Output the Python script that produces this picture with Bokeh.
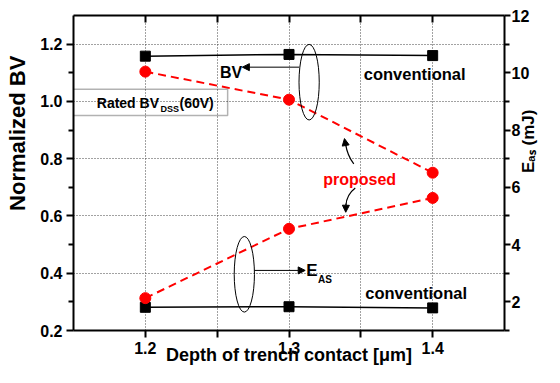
import math
from bokeh.plotting import figure
from bokeh.models import (Range1d, LinearAxis, FixedTicker, Label, Arrow,
                          NormalHead, BoxAnnotation, PrintfTickFormatter)
from bokeh.embed import file_html
from bokeh.resources import INLINE

# ---------------- data ----------------
depth = [1.2, 1.3, 1.4]                      # depth of trench contact [um]
bv_conventional = [1.158, 1.164, 1.160]      # normalized BV
bv_proposed = [1.104, 1.006, 0.751]          # normalized BV
eas_conventional = [1.81, 1.83, 1.79]        # E_AS (mJ)
eas_proposed = [2.13, 4.55, 5.63]            # E_AS (mJ)

x_ticks = [1.2, 1.3, 1.4]
x_minor = [1.25, 1.35]
bv_ticks = [0.2, 0.4, 0.6, 0.8, 1.0, 1.2]
bv_minor = [0.3, 0.5, 0.7, 0.9, 1.1]
eas_ticks = [2, 4, 6, 8, 10, 12]
eas_minor = [1, 3, 5, 7, 9, 11]

X0, X1 = 1.15, 1.45
Y0, Y1 = 0.2, 1.3
E0, E1 = 1, 12

# helpers: place annotations by their pixel position in the reference picture
FX0, FX1, FY0, FY1 = 73, 512, 15, 340
def dx(px): return X0 + (px - FX0) / (FX1 - FX0) * (X1 - X0)
def dy(py): return Y1 - (py - FY0) / (FY1 - FY0) * (Y1 - Y0)
def dw(pw): return pw / (FX1 - FX0) * (X1 - X0)
def dh(ph): return ph / (FY1 - FY0) * (Y1 - Y0)

FONT = "Liberation Sans"
RED = "#ff0000"
NB = "\u00a0"

p = figure(width=544, height=367, x_range=Range1d(X0, X1), y_range=Range1d(Y0, Y1),
           output_backend="svg", toolbar_location=None,
           min_border_left=73, min_border_right=40, min_border_top=15, min_border_bottom=37)
p.extra_y_ranges = {"eas": Range1d(E0, E1)}
p.outline_line_color = None
p.background_fill_color = "white"
p.border_fill_color = "white"

xt = FixedTicker(ticks=x_ticks, minor_ticks=x_minor)
yt = FixedTicker(ticks=bv_ticks, minor_ticks=bv_minor)
et = FixedTicker(ticks=eas_ticks, minor_ticks=eas_minor)

def style_axis(ax):
    ax.axis_line_width = 2
    ax.axis_line_color = "black"
    ax.major_tick_line_width = 2
    ax.minor_tick_line_width = 2
    ax.major_tick_line_color = "black"
    ax.minor_tick_line_color = "black"
    ax.major_label_text_font = FONT
    ax.major_label_text_font_style = "bold"
    ax.major_label_text_font_size = "16px"
    ax.major_label_text_color = "black"
    ax.axis_label_text_font = FONT
    ax.axis_label_text_font_style = "bold"
    ax.axis_label_text_color = "black"

bx = p.xaxis[0]
style_axis(bx)
bx.ticker = xt
bx.formatter = PrintfTickFormatter(format="%.1f")
bx.major_tick_in = 0
bx.major_tick_out = 7
bx.minor_tick_in = 0
bx.minor_tick_out = 7
bx.major_label_standoff = 4
bx.axis_label = "Depth of trench contact [μm]"
bx.axis_label_text_font_size = "18px"
bx.axis_label_standoff = -12

ly = p.yaxis[0]
style_axis(ly)
ly.ticker = yt
ly.formatter = PrintfTickFormatter(format="%.1f")
ly.major_tick_in = 0
ly.major_tick_out = 7
ly.minor_tick_in = 0
ly.minor_tick_out = 5
ly.major_label_standoff = 4
ly.axis_label = NB * 13 + "Normalized BV"
ly.axis_label_text_font_size = "22px"
ly.axis_label_standoff = 7

ry = LinearAxis(y_range_name="eas", ticker=et)
style_axis(ry)
ry.major_tick_in = 0
ry.major_tick_out = 6
ry.minor_tick_in = 0
ry.minor_tick_out = 5
ry.major_label_standoff = 1
# title reads bottom-to-top; drawn on a second text line whose box takes no room
ry.axis_label = "\nE\u2090\u209b (mJ)"
ry.axis_label_text_font_size = "17px"
ry.axis_label_text_line_height = -1
ry.axis_label_standoff = 6
if "axis_label_orientation" in LinearAxis.properties():
    ry.axis_label_orientation = math.pi / 2
p.add_layout(ry, "right")

tx = LinearAxis(ticker=xt)
style_axis(tx)
tx.major_tick_in = 7
tx.major_tick_out = 0
tx.minor_tick_in = 7
tx.minor_tick_out = 0
tx.major_label_text_font_size = "1px"
tx.major_label_text_color = None
tx.major_label_standoff = 0
p.add_layout(tx, "above")

# grids
for g in (p.xgrid, p.ygrid):
    g.grid_line_color = "#444444"
    g.grid_line_dash = "1 2"
    g.grid_line_width = 1
p.xgrid.ticker = xt
p.xgrid.minor_grid_line_color = "#444444"
p.xgrid.minor_grid_line_dash = "1 2"
p.xgrid.minor_grid_line_width = 1
p.ygrid.ticker = yt

# ---------------- series ----------------
p.line(depth, bv_conventional, line_color="black", line_width=1.5)
p.line(depth, eas_conventional, line_color="black", line_width=1.5, y_range_name="eas")
p.line(depth, bv_proposed, line_color=RED, line_width=2, line_dash="8 5")
p.line(depth, eas_proposed, line_color=RED, line_width=2, line_dash="8 5", y_range_name="eas")
p.scatter(depth, bv_conventional, marker="square", size=10, color="black")
p.scatter(depth, eas_conventional, marker="square", size=10, color="black", y_range_name="eas")
p.scatter(depth, bv_proposed, marker="circle", size=11, color=RED)
p.scatter(depth, eas_proposed, marker="circle", size=11, color=RED, y_range_name="eas")

# ---------------- annotations ----------------
p.ellipse(x=[dx(313), dx(247)], y=[dy(83.8), dy(282)], width=dw(20.6), height=dh(78),
          fill_color=None, line_color="black", line_width=1)

def label(text, px, py, size, color="black", align="left", angle=0.0, baseline="alphabetic"):
    p.add_layout(Label(x=dx(px), y=dy(py), text=text, text_font=FONT, text_font_style="bold",
                       text_font_size=size, text_color=color, text_align=align,
                       text_baseline=baseline, angle=angle))

label("BV", 233.5, 74, "16px", align="center")
label("conventional", 420.5, 75, "16.5px", align="center")
label("conventional", 422, 301, "16.5px", align="center")
label("proposed", 364.5, 184, "16px", color=RED, align="center")
label("E", 310, 278.5, "17px")
label("AS", 322, 287, "10px")

label("Rated BV", 96.7, 105.7, "14px")
label("DSS", 161.5, 111.5, "9px")
label("(60V)", 181, 105.7, "14px")
p.add_layout(BoxAnnotation(left=dx(35), right=dx(230), top=dy(91), bottom=dy(118.3),
                           fill_alpha=0, fill_color=None, line_color="black", line_width=1.5))

# arrows
def head():
    return NormalHead(size=7, fill_color="black", line_color="black", line_width=1)
p.add_layout(Arrow(end=head(), x_start=dx(303), y_start=dy(68.3), x_end=dx(245), y_end=dy(68.3),
                   line_color="black", line_width=1))
p.add_layout(Arrow(end=head(), x_start=dx(257.3), y_start=dy(278), x_end=dx(309), y_end=dy(278),
                   line_color="black", line_width=1))
p.quadratic(x0=[dx(358.5), dx(360)], y0=[dy(168), dy(193)],
            x1=[dx(350), dx(350.5)], y1=[dy(147), dy(211)],
            cx=[dx(352), dx(351)], cy=[dy(160), dy(200)],
            line_color="black", line_width=1.2)
p.add_layout(Arrow(end=head(), x_start=dx(350.4), y_start=dy(150), x_end=dx(349), y_end=dy(142),
                   line_color="black", line_width=1))
p.add_layout(Arrow(end=head(), x_start=dx(350.5), y_start=dy(209), x_end=dx(350.3), y_end=dy(218),
                   line_color="black", line_width=1))

open("out.html", "w").write(file_html(p, INLINE))
